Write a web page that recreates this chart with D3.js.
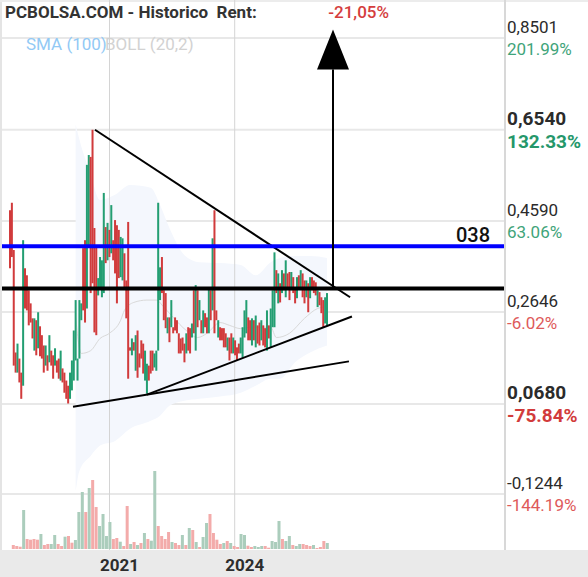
<!DOCTYPE html>
<html>
<head>
<meta charset="utf-8">
<script src="https://cdn.jsdelivr.net/npm/d3@7"></script>
<style>
  body { margin: 0; background: #fff; }
  svg { display: block; font-family: Roboto, "Noto Sans", sans-serif; }
</style>
</head>
<body>
<svg id="chart" width="588" height="577"></svg>
<script>
// candle data (price), one entry per period
const opens = [
  .482,.498,.397,.178,.135,.165,.135,.107,.358,.343,.311,.283,.251,.182,.247,.187,.234,.215,.193,.150,
  .172,.157,.182,.172,.150,.161,.165,.118,.144,.135,.118,.107,.079,.097,.118,.161,.118,.165,.247,.401,
  .418,.272,.407,.596,.654,.444,.403,.300,.317,.296,.305,.446,.375,.440,.390,.418,.461,.450,.440,.339,
  .332,.390,.332,.457,.189,.172,.200,.139,.225,.176,.204,.197,.118,.090,.150,.182,.182,.146,.139,.182,
  .290,.382,.311,.305,.219,.253,.232,.232,.253,.247,.219,.208,.210,.197,.176,.232,.230,.210,.311,.182,
  .311,.247,.247,.219,.262,.253,.219,.311,.268,.482,.268,.210,.232,.230,.230,.219,.182,.210,.219,.176,
  .204,.189,.197,.176,.167,.210,.219,.253,.247,.193,.247,.189,.236,.242,.204,.236,.230,.182,.236,.189,
  .232,.232,.354,.283,.326,.305,.347,.296,.347,.350,.311,.339,.317,.294,.343,.315,.347,.332,.296,.326,
  .294,.339,.332,.328,.275,.307,.296,.290,.240,.236
];
const closes = [
  .358,.382,.150,.135,.197,.114,.079,.418,.272,.268,.236,.242,.208,.251,.172,.264,.170,.165,.135,.193,
  .139,.215,.150,.122,.187,.135,.122,.182,.114,.092,.079,.069,.135,.161,.225,.290,.165,.290,.283,.268,
  .242,.579,.600,.305,.326,.221,.215,.337,.382,.375,.519,.369,.455,.382,.493,.375,.347,.283,.337,.425,
  .422,.317,.251,.122,.182,.208,.182,.215,.124,.146,.165,.133,.182,.154,.118,.133,.139,.176,.182,.498,
  .360,.305,.247,.230,.253,.200,.290,.219,.225,.219,.176,.176,.182,.157,.219,.182,.176,.240,.219,.322,
  .232,.290,.219,.268,.232,.219,.317,.247,.422,.219,.247,.247,.204,.204,.189,.189,.210,.161,.176,.210,
  .172,.161,.176,.210,.232,.268,.290,.204,.204,.251,.204,.257,.197,.193,.247,.193,.189,.268,.208,.272,
  .311,.392,.305,.347,.285,.354,.311,.375,.317,.290,.350,.305,.283,.339,.317,.354,.296,.283,.332,.264,
  .339,.311,.305,.300,.311,.279,.262,.232,.296,.305
];

// volume bars (relative units) and direction (1 = up)
const volumes = [
  4,3,2.3,39,10,9.3,10,9.3,15,4, 5,5,14,5,3,12.3,13,6.3,9,37,
  57,37,61,69,42,23,35,13,27,10, 11,7.3,3,43,5,7,4,6,16,10,
  8.3,78,23,13,10,17,7,6,4,14, 4,21,19,7,2,12,26,35,16,9.3,
  5,6,8,6,3,2,15,14,3.3,2, 3,2,3,3,1.3,8,7,28,10,8,
  13,4,3,5,5,4,3,4,1,2, 8,6
];
const volUp = [
  0,0,0,1,0,0,0,0,1,0, 0,1,1,0,0,1,0,0,1,1,
  1,0,1,0,0,1,1,1,1,0, 0,1,0,0,1,0,1,0,1,0,
  1,1,0,0,0,0,1,0,0,1, 0,1,0,1,0,1,1,0,0,0,
  0,1,0,1,0,0,1,1,0,0, 1,1,1,0,0,1,1,1,0,1,
  1,0,1,1,0,0,0,1,0,0, 0,1
];

// Bollinger envelope and middle line (candle index, price)
const bandIdx   = [35, 37, 43, 48, 56, 64, 75, 80, 85, 93, 101, 112, 123, 131, 139, 144, 152, 160, 169];
const bandUpper = [.665,.633,.558,.504,.515,.536,.530,.493,.444,.386,.371,.369,.365,.343,.371,.380,.384,.384,.380];
const bandLower = [-.118,-.075,-.043,-.021,-.011,.015,.032,.043,.064,.075,.079,.084,.092,.107,.122,.122,.157,.178,.193];
const midIdx  = [35, 38, 43, 48, 53, 59, 61, 66, 73, 78, 82, 87, 94, 100, 105, 112, 117, 123, 128, 139, 142, 149, 157, 164, 167];
const midVals = [.253,.176,.182,.208,.219,.247,.268,.285,.290,.290,.275,.253,.225,.210,.219,.242,.236,.229,.232,.232,.210,.219,.251,.272,.275];

// axis
const priceTicks = [0.8501, 0.6540, 0.4590, 0.2646, 0.0680, -0.1244];
const priceLabels = ["0,8501", "0,6540", "0,4590", "0,2646", "0,0680", "-0,1244"];
const pctLabels = ["201.99%", "132.33%", "63.06%", "-6.02%", "-75.84%", "-144.19%"];
const boldTicks = [0.6540, 0.0680];
const yearTicks = [2021, 2024];

// drawn annotations: [idx1, price1, idx2, price2]
const trendLines = [
  [45.3, 0.654, 181.3, 0.296],
  [33.6, 0.062, 180.7, 0.159],
  [73.0, 0.088, 182.3, 0.255]
];
const levelPrices = [0.405, 0.315];
const levelColors = ["#0000ff", "#000000"];
const arrowIdx = 172.2;
const arrowPrices = [0.315, 0.783, 0.868]; // start, head base, tip

const svg = d3.select("#chart");
const W = 588, H = 577;
const plotL = 2, plotR = 504, plotB = 550;

const x = d3.scaleLinear().domain([0, opens.length - 1]).range([10, 327]);
const xv = d3.scaleLinear().domain([0, volumes.length - 1]).range([13.3, 327.3]);
const xYear = d3.scaleLinear().domain([2021, 2024]).range([109.5, 234.7]);
const y = d3.scaleLinear().domain([-0.1244, 0.8501]).range([494, 38]);
const yv = d3.scaleLinear().domain([0, 100]).range([549, 449]);

const red = "#d13b3c", green = "#239e72";

svg.append("rect").attr("width", W).attr("height", H).attr("fill", "#fff");
// bottom band
svg.append("rect").attr("x", 0).attr("y", plotB).attr("width", W).attr("height", H - plotB).attr("fill", "#eaeaea");
// borders
svg.append("rect").attr("x", 0).attr("y", 0).attr("width", 2).attr("height", plotB).attr("fill", "#e4e4e4");
svg.append("rect").attr("x", 0).attr("y", 0).attr("width", W).attr("height", 2).attr("fill", "#ececec");
svg.append("line").attr("x1", 505).attr("x2", 505).attr("y1", 0).attr("y2", plotB)
  .attr("stroke", "#d8d8d8").attr("stroke-width", 2);

// horizontal gridlines
svg.append("g").selectAll("line").data(priceTicks).join("line")
  .attr("x1", plotL).attr("x2", plotR)
  .attr("y1", d => y(d)).attr("y2", d => y(d))
  .attr("stroke", "#e8e8e8").attr("stroke-width", 2);

// bollinger envelope
const band = bandIdx.map((d, i) => ({ i: d, hi: bandUpper[i], lo: bandLower[i] }));
svg.append("path").datum(band)
  .attr("d", d3.area().x(d => x(d.i)).y0(d => y(d.lo)).y1(d => y(d.hi)).curve(d3.curveMonotoneX))
  .attr("fill", "#f4f7fd");

// vertical year gridlines
svg.append("g").selectAll("line").data(yearTicks).join("line")
  .attr("x1", d => xYear(d)).attr("x2", d => xYear(d))
  .attr("y1", 0).attr("y2", plotB)
  .attr("stroke", "#d4d4d4").attr("stroke-width", 1);

// middle line
const mid = midIdx.map((d, i) => ({ i: d, v: midVals[i] }));
svg.append("path").datum(mid)
  .attr("d", d3.line().x(d => x(d.i)).y(d => y(d.v)).curve(d3.curveMonotoneX))
  .attr("fill", "none").attr("stroke", "#d9d9d9").attr("stroke-width", 1);

// volume
svg.append("g").selectAll("rect").data(volumes).join("rect")
  .attr("x", (d, i) => xv(i) - 1.5)
  .attr("width", 3)
  .attr("y", d => yv(d))
  .attr("height", d => yv(0) - yv(d))
  .attr("fill", (d, i) => volUp[i] ? "#abcdbc" : "#f3abaa");

// candles
const candles = opens.map((o, i) => ({ i, o, c: closes[i] }));
svg.append("g").selectAll("rect").data(candles).join("rect")
  .attr("x", d => x(d.i) - 1)
  .attr("width", 2)
  .attr("y", d => y(Math.max(d.o, d.c)))
  .attr("height", d => Math.max(1, Math.abs(y(d.o) - y(d.c))))
  .attr("fill", d => d.c >= d.o ? green : red);

// trend lines
svg.append("g").selectAll("line").data(trendLines).join("line")
  .attr("x1", d => x(d[0])).attr("y1", d => y(d[1]))
  .attr("x2", d => x(d[2])).attr("y2", d => y(d[3]))
  .attr("stroke", "#000").attr("stroke-width", 2);

// horizontal levels
svg.append("g").selectAll("line").data(levelPrices).join("line")
  .attr("x1", plotL).attr("x2", plotR)
  .attr("y1", d => y(d)).attr("y2", d => y(d))
  .attr("stroke", (d, i) => levelColors[i]).attr("stroke-width", 4);

svg.append("text")
  .attr("x", 490).attr("y", y(levelPrices[0]) - 4)
  .attr("text-anchor", "end")
  .attr("font-size", 20).attr("font-weight", 500).attr("fill", "#111")
  .text("038");

// arrow
const ax = x(arrowIdx);
svg.append("line")
  .attr("x1", ax).attr("x2", ax)
  .attr("y1", y(arrowPrices[0])).attr("y2", y(arrowPrices[1]))
  .attr("stroke", "#000").attr("stroke-width", 2);
svg.append("path")
  .attr("d", `M${ax},${y(arrowPrices[2])} L${ax + 16},${y(arrowPrices[1])} L${ax - 16},${y(arrowPrices[1])} Z`)
  .attr("fill", "#000");

// right axis labels
const ax2 = svg.append("g");
priceTicks.forEach((p, i) => {
  const bold = boldTicks.includes(p);
  ax2.append("text")
    .attr("x", 507).attr("y", y(p) - 5)
    .attr("font-size", bold ? 19 : 17)
    .attr("font-weight", bold ? 700 : 400)
    .attr("fill", "#2b2b2b")
    .text(priceLabels[i]);
  const neg = pctLabels[i].startsWith("-");
  ax2.append("text")
    .attr("x", 507).attr("y", y(p) + (bold ? 18 : 17))
    .attr("font-size", bold ? 19 : 17)
    .attr("font-weight", bold ? 700 : 400)
    .attr("fill", neg ? (bold ? "#d23b3b" : "#de5a5a") : (bold ? "#25976a" : "#3fa47a"))
    .text(pctLabels[i]);
});

// year labels
svg.append("g").selectAll("text").data(yearTicks).join("text")
  .attr("x", d => xYear(d) + 10).attr("y", 571)
  .attr("text-anchor", "middle")
  .attr("font-size", 17).attr("font-weight", 700).attr("fill", "#2d2d2d")
  .text(d => d);

// header
svg.append("text")
  .attr("x", 5).attr("y", 18)
  .attr("font-size", 17).attr("font-weight", 700).attr("fill", "#333")
  .style("white-space", "pre")
  .text("PCBOLSA.COM - Historico  Rent:");
svg.append("text")
  .attr("x", 389).attr("y", 18)
  .attr("text-anchor", "end")
  .attr("font-size", 17).attr("font-weight", 500).attr("fill", "#d53d3d")
  .text("-21,05%");

// legend
svg.append("text")
  .attr("x", 26).attr("y", 50)
  .attr("font-size", 17).attr("fill", "#92c9f5")
  .text("SMA (100)");
svg.append("text")
  .attr("x", 105).attr("y", 50)
  .attr("font-size", 17).attr("fill", "#d2d2d2")
  .text("BOLL (20,2)");
</script>
</body>
</html>
